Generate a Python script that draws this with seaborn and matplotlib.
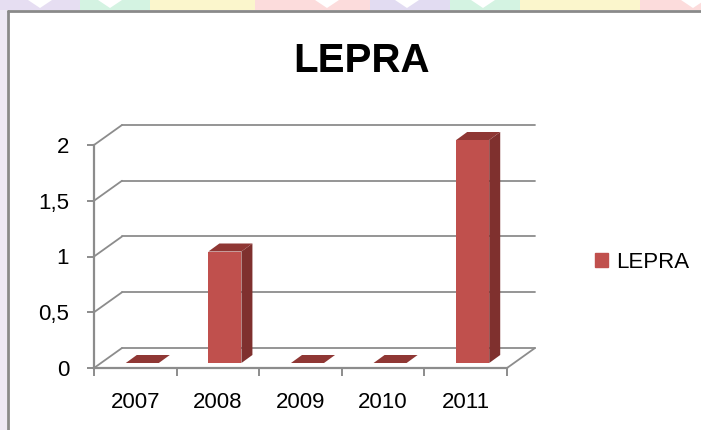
import numpy as np
import pandas as pd
import seaborn as sns
import matplotlib.pyplot as plt
from matplotlib.patches import Patch, Rectangle, Polygon
from matplotlib.lines import Line2D

years = ['2007', '2008', '2009', '2010', '2011']
cases = [0, 1, 0, 0, 2]
yticks = [0, 0.5, 1, 1.5, 2]
ylabels = ['0', '0,5', '1', '1,5', '2']
series = 'LEPRA'

front_c = '#C0504D'
side_c = '#7F302E'
top_c = '#8F3734'
grid_c = '#8C8C8C'

sns.set_style('white')
plt.rcParams['font.family'] = ['Liberation Sans', 'DejaVu Sans']
plt.rcParams['text.color'] = 'black'

df = pd.DataFrame({'year': years, 'cases': cases})

fig = plt.figure(figsize=(7.01, 4.30), dpi=100)
fig.patch.set_facecolor('white')

# decorative pastel strip at the top of the slide
W, H = 701, 430
strip = [(0, 80, '#E6DEF2'), (80, 150, '#D4F3E2'), (150, 255, '#FBF6CC'),
         (255, 370, '#FCDCDC'), (370, 450, '#E2DCF2'), (450, 520, '#D4F3E2'),
         (520, 640, '#FBF6CC'), (640, 701, '#FCDCDC')]
for x0, x1, c in strip:
    fig.add_artist(Rectangle((x0 / W, 1 - 10 / H), (x1 - x0) / W, 10 / H,
                             transform=fig.transFigure, color=c, lw=0))
for cx in [40, 110, 327, 407, 483, 693]:
    fig.add_artist(Polygon([((cx - 12) / W, 1), ((cx + 12) / W, 1), (cx / W, 1 - 8 / H)],
                           transform=fig.transFigure, color='white', lw=0))
fig.add_artist(Rectangle((0, 0), 7 / W, 1 - 10 / H, transform=fig.transFigure,
                         color='#EEE9F5', lw=0))
fig.add_artist(Line2D([8 / W, 1], [1 - 11 / H, 1 - 11 / H], transform=fig.transFigure,
                      color='#8A8A8A', lw=2))
fig.add_artist(Line2D([8 / W, 8 / W], [0, 1 - 11 / H], transform=fig.transFigure,
                      color='#8A8A8A', lw=2))

# front plane of the 3d chart
ax = fig.add_axes([94 / W, 62 / H, 413 / W, 223 / H])
ax.set_xlim(-0.5, 4.5)
ax.set_ylim(0, 2)
ax.patch.set_alpha(0)

# oblique depth in data units
DX, DY = 28 / 82.6, 20 / 111.5
bx, by = 7 / 82.6, 5 / 111.5
ddx, ddy = 11 / 82.6, 8 / 111.5

# back wall gridlines and left wall edges
for y in yticks:
    ax.plot([-0.5 + DX, 4.5 + DX], [y + DY, y + DY], color=grid_c, lw=1.3,
            clip_on=False, zorder=1)
    ax.plot([-0.5, -0.5 + DX], [y, y + DY], color=grid_c, lw=1.3,
            clip_on=False, zorder=1)
ax.plot([4.5, 4.5 + DX], [0, DY], color=grid_c, lw=1.3, clip_on=False, zorder=1)

sns.barplot(data=df, x='year', y='cases', color=front_c, width=0.4,
            saturation=1, ax=ax, zorder=3)
ax.set_xlim(-0.5, 4.5)
ax.set_ylim(0, 2)

for p in ax.patches:
    p.set_x(p.get_x() + bx)
    p.set_y(p.get_y() + by)
    p.set_edgecolor('none')
    p.set_clip_on(False)
    x0, w, h = p.get_x(), p.get_width(), p.get_height()
    x1, y0, y1 = x0 + w, by, by + h
    if h > 0:
        ax.fill([x1, x1 + ddx, x1 + ddx, x1], [y0, y0 + ddy, y1 + ddy, y1],
                color=side_c, lw=0, clip_on=False, zorder=3)
    ax.fill([x0, x1, x1 + ddx, x0 + ddx], [y1, y1, y1 + ddy, y1 + ddy],
            color=top_c, lw=0, clip_on=False, zorder=3)

for s in ['top', 'right']:
    ax.spines[s].set_visible(False)
for s in ['left', 'bottom']:
    ax.spines[s].set_color(grid_c)
    ax.spines[s].set_linewidth(1.6)
    ax.spines[s].set_zorder(2)

ax.set_yticks(yticks)
ax.set_yticklabels(ylabels)
ax.set_xticks(np.arange(-0.5, 5, 1))
ax.set_xticklabels([])
ax.set_xticks(range(len(years)), minor=True)
ax.set_xticklabels(years, minor=True)
ax.tick_params(axis='y', left=True, length=5, width=1.4, color=grid_c,
               pad=13, labelsize=16, labelcolor='black')
ax.tick_params(axis='x', which='major', bottom=True, length=6, width=1.4, color=grid_c)
ax.tick_params(axis='x', which='minor', bottom=True, length=0, pad=17,
               labelsize=16, labelcolor='black')
ax.set_xlabel('')
ax.set_ylabel('')
ax.grid(False)

fig.text(362 / W, 1 - 61 / H, 'LEPRA', ha='center', va='center',
         fontsize=29, fontweight='bold', color='black')

fig.legend(handles=[Patch(color=front_c, label=series)], loc='center left',
           bbox_to_anchor=(595 / W, 1 - 262 / H), frameon=False, fontsize=16,
           borderpad=0, borderaxespad=0, handlelength=0.6, handleheight=0.6,
           handletextpad=0.35)

fig.savefig('out.png', dpi=100)
